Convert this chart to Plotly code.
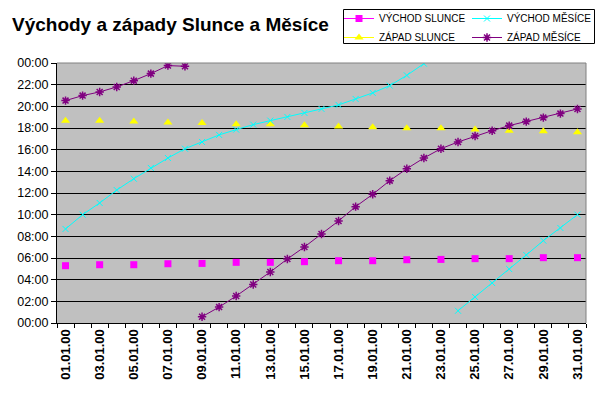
import plotly.graph_objects as go

days = ["01.01.00", "02.01.00", "03.01.00", "04.01.00", "05.01.00", "06.01.00", "07.01.00", "08.01.00",
        "09.01.00", "10.01.00", "11.01.00", "12.01.00", "13.01.00", "14.01.00", "15.01.00", "16.01.00",
        "17.01.00", "18.01.00", "19.01.00", "20.01.00", "21.01.00", "22.01.00", "23.01.00", "24.01.00",
        "25.01.00", "26.01.00", "27.01.00", "28.01.00", "29.01.00", "30.01.00", "31.01.00"]

# hours (decimal)
sunrise = [5.29, None, 5.38, None, 5.38, None, 5.47, None, 5.50, None, 5.60, None, 5.60, None, 5.66, None,
           5.75, None, 5.75, None, 5.84, None, 5.87, None, 5.94, None, 5.94, None, 6.03, None, 6.03]
sunset = [18.68, None, 18.68, None, 18.60, None, 18.50, None, 18.46, None, 18.34, None, 18.34, None, 18.25, None,
          18.15, None, 18.06, None, 17.97, None, 17.97, None, 17.85, None, 17.75, None, 17.69, None, 17.60]
moonrise = [8.68, 10.00, 11.08, 12.27, 13.32, 14.31, 15.23, 16.09, 16.71, 17.36, 17.85, 18.31, 18.68, 19.02, 19.39,
            19.76, 20.13, 20.68, 21.24, 21.91, 22.86, 23.94, None, 1.13, 2.40, 3.69, 4.98, 6.28, 7.60, 8.77, 10.00]
moonset = [20.53, 20.99, 21.33, 21.79, 22.37, 23.02, 23.76, 23.70, 0.58, 1.47, 2.49, 3.56, 4.71, 5.91, 7.02,
           8.22, 9.42, 10.74, 11.88, 13.14, 14.24, 15.23, 16.09, 16.71, 17.26, 17.75, 18.22, 18.59, 18.96, 19.33, 19.76]

y_ticks = [0, 2, 4, 6, 8, 10, 12, 14, 16, 18, 20, 22, 24]
y_labels = ["00:00", "02:00", "04:00", "06:00", "08:00", "10:00", "12:00", "14:00", "16:00",
            "18:00", "20:00", "22:00", "00:00"]
x_labels = [d if i % 2 == 0 else "" for i, d in enumerate(days)]

FONT = "Arial, Liberation Sans, sans-serif"
W, H = 607, 393
ML, MR, MT, MB = 57, 21, 63, 70
PW, PH = W - ML - MR, H - MT - MB


def px_x(x):
    return (x - ML) / PW


def px_y(y):
    return (H - MB - y) / PH


fig = go.Figure()
fig.add_trace(go.Scatter(x=days, y=sunrise, name="VÝCHOD SLUNCE", mode="lines+markers", legend="legend",
                         line=dict(color="#FF00FF", width=1), connectgaps=False,
                         marker=dict(symbol="square", size=7, color="#FF00FF")))
fig.add_trace(go.Scatter(x=days, y=sunset, name="ZÁPAD SLUNCE", mode="lines+markers", legend="legend",
                         line=dict(color="#FFFF00", width=1), connectgaps=False,
                         marker=dict(symbol="triangle-up", size=8, color="#FFFF00")))
fig.add_trace(go.Scatter(x=days, y=moonrise, name="VÝCHOD MĚSÍCE", mode="lines+markers", legend="legend2",
                         line=dict(color="#00FFFF", width=1), connectgaps=False,
                         marker=dict(symbol="x-thin-open", size=6, color="#00FFFF",
                                     line=dict(color="#00FFFF", width=1))))
fig.add_trace(go.Scatter(x=days[:8], y=moonset[:8], name="ZÁPAD MĚSÍCE", mode="lines+markers", legend="legend2",
                         line=dict(color="#800080", width=1),
                         marker=dict(symbol="asterisk-open", size=7, color="#800080",
                                     line=dict(color="#800080", width=1.5))))
fig.add_trace(go.Scatter(x=days[8:], y=moonset[8:], name="ZÁPAD MĚSÍCE", mode="lines+markers", showlegend=False,
                         legend="legend2", line=dict(color="#800080", width=1),
                         marker=dict(symbol="asterisk-open", size=7, color="#800080",
                                     line=dict(color="#800080", width=1.5))))

leg_common = dict(orientation="v", yanchor="top", xanchor="left", borderwidth=0,
                  bgcolor="rgba(0,0,0,0)", font=dict(size=10, family=FONT), itemwidth=30,
                  tracegroupgap=0)

fig.update_layout(
    width=W, height=H,
    margin=dict(l=ML, r=MR, t=MT, b=MB, autoexpand=False),
    paper_bgcolor="white", plot_bgcolor="#C0C0C0",
    font=dict(family=FONT, color="black"),
    title=dict(text="<b>Východy a západy Slunce a Měsíce</b>", font=dict(size=19, family=FONT),
               x=12 / W, xanchor="left", xref="container", y=1 - 24 / H, yanchor="middle", yref="container"),
    showlegend=True,
    legend=dict(x=px_x(339), y=px_y(4), **leg_common),
    legend2=dict(x=px_x(467), y=px_y(4), **leg_common),
    xaxis=dict(type="category", categoryorder="array", categoryarray=days, range=[-0.5, 30.5],
               tickmode="array", tickvals=days, ticktext=x_labels, tickangle=-90, tickson="boundaries",
               ticks="outside", ticklen=4, tickcolor="black", showgrid=False,
               showline=True, linecolor="black", linewidth=1,
               tickfont=dict(size=13, family=FONT, weight="bold"), fixedrange=True),
    yaxis=dict(range=[0, 24], tickmode="array", tickvals=y_ticks, ticktext=y_labels,
               ticks="outside", ticklen=5, tickcolor="black", showgrid=True, gridcolor="black", gridwidth=1,
               showline=True, linecolor="black", linewidth=1, zeroline=False,
               tickfont=dict(size=12.5, family=FONT), fixedrange=True),
    shapes=[
        dict(type="line", xref="paper", yref="paper", x0=0, x1=1, y0=1, y1=1, line=dict(color="#808080", width=1)),
        dict(type="line", xref="paper", yref="paper", x0=1, x1=1, y0=0, y1=1, line=dict(color="#808080", width=1)),
        dict(type="rect", xref="paper", yref="paper", x0=px_x(343.5), x1=px_x(594.5), y0=px_y(43.5), y1=px_y(9.5),
             line=dict(color="black", width=1), fillcolor="rgba(0,0,0,0)"),
    ],
)

fig.write_html("out.html", config={"displayModeBar": False},
               post_script="document.body.style.margin='0';document.body.style.overflow='hidden';")
